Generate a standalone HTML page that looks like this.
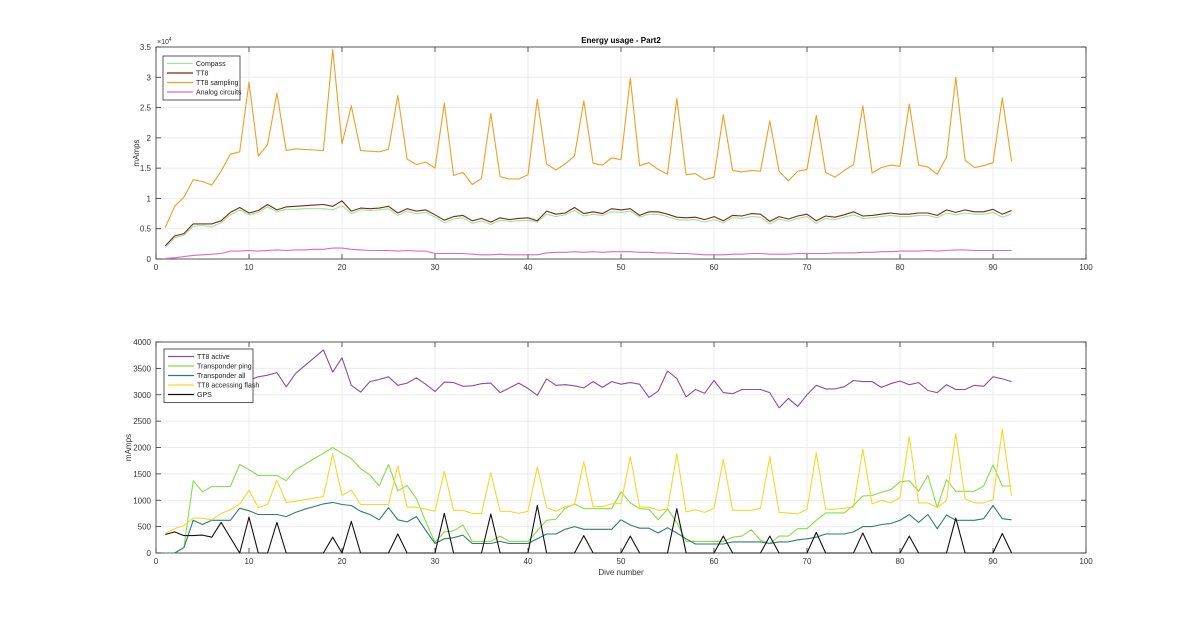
<!DOCTYPE html>
<html><head><meta charset="utf-8">
<style>
body{margin:0;background:#fff;}
svg{display:block;font-family:"Liberation Sans",sans-serif;}
</style></head>
<body>
<svg id="fig" width="1200" height="622" viewBox="0 0 1200 622">
<rect width="1200" height="622" fill="#fff"/>
<g id="top"></g>
<g id="bot"></g>
</svg>
<script>
const diveNumbers = Array.from({length:92},(_,i)=>i+1);
const topXTicks = [0,10,20,30,40,50,60,70,80,90,100];
const topYTicks = [0,0.5,1,1.5,2,2.5,3,3.5];
const botYTicks = [0,500,1000,1500,2000,2500,3000,3500,4000];
const compass = [1.9,3.5,3.9,5.4,5.5,5.3,6.0,7.3,8.1,7.3,7.7,8.6,7.8,8.2,8.2,8.3,8.3,8.3,8.1,8.8,7.5,8.1,8.0,8.1,8.3,7.2,7.9,7.5,7.7,6.9,6.0,6.6,6.8,5.9,6.3,5.7,6.4,6.2,6.3,6.4,6.1,7.4,7.0,7.3,8.0,7.1,7.4,7.2,7.8,7.7,7.9,6.9,7.4,7.4,7.0,6.5,6.4,6.5,6.1,6.5,6.0,6.8,6.7,7.0,6.9,5.8,6.6,6.2,6.7,7.0,5.9,6.7,6.5,6.9,7.3,6.7,6.8,7.0,7.2,7.0,7.0,7.2,7.2,6.8,7.6,7.3,7.6,7.4,7.4,7.7,6.9,7.5];
const tt8 = [2.2,3.8,4.2,5.8,5.8,5.8,6.3,7.7,8.5,7.6,8.0,9.0,8.1,8.6,8.7,8.8,8.9,9.0,8.7,9.6,7.9,8.4,8.3,8.4,8.7,7.6,8.3,7.9,8.1,7.3,6.4,7.0,7.2,6.3,6.7,6.1,6.8,6.5,6.7,6.8,6.3,7.9,7.4,7.6,8.5,7.5,7.8,7.5,8.3,8.1,8.3,7.2,7.8,7.8,7.4,6.9,6.8,6.9,6.5,7.0,6.3,7.2,7.1,7.5,7.4,6.2,7.0,6.6,7.1,7.4,6.3,7.1,6.9,7.3,7.8,7.1,7.2,7.4,7.6,7.4,7.4,7.6,7.6,7.2,8.1,7.7,8.1,7.8,7.8,8.2,7.4,8.0];
const tt8Sampling = [5.2,8.7,10.2,13.1,12.8,12.2,14.5,17.3,17.7,29.2,17.0,18.9,27.4,17.9,18.2,18.1,18.0,17.9,34.6,19.0,25.3,17.9,17.8,17.7,18.1,27.0,16.5,15.6,16.0,15.0,25.7,13.8,14.3,12.3,13.3,24.0,13.6,13.2,13.2,13.9,26.4,15.7,14.7,15.7,17.0,26.1,15.8,15.5,16.7,16.4,29.9,15.4,15.9,14.8,14.0,26.5,13.9,14.1,13.1,13.5,23.8,14.6,14.4,14.6,14.5,22.8,14.5,12.9,14.5,14.8,23.7,14.3,13.5,14.6,15.6,25.3,14.2,15.1,15.5,15.3,25.6,15.5,15.2,14.0,16.8,30.0,16.3,15.1,15.4,15.9,26.6,16.1];
const analog = [0.1,0.2,0.4,0.6,0.7,0.8,0.9,1.3,1.3,1.4,1.3,1.4,1.5,1.4,1.5,1.5,1.6,1.6,1.8,1.8,1.6,1.5,1.4,1.4,1.4,1.3,1.4,1.3,1.3,0.9,0.9,0.9,0.9,0.8,0.7,0.7,0.8,0.7,0.7,0.7,0.7,1.0,1.1,1.1,1.2,1.1,1.2,1.1,1.2,1.2,1.2,1.1,1.1,1.0,1.0,0.9,0.9,0.8,0.7,0.7,0.7,0.8,0.8,0.9,0.9,0.8,0.8,0.8,0.9,0.9,0.9,0.9,1.0,1.0,1.0,1.1,1.1,1.2,1.2,1.3,1.3,1.3,1.4,1.3,1.4,1.5,1.5,1.4,1.4,1.4,1.4,1.4];
const tt8Active = [2950,3000,3050,3100,3150,3200,3250,3250,3300,3280,3340,3370,3420,3150,3400,3550,3700,3850,3430,3700,3180,3050,3250,3290,3340,3180,3220,3320,3200,3060,3240,3230,3160,3170,3210,3220,3040,3130,3220,3120,2990,3300,3180,3190,3170,3130,3250,3140,3250,3200,3230,3200,2950,3070,3450,3310,2960,3100,3030,3270,3040,3020,3100,3100,3100,3040,2750,2930,2780,3000,3180,3110,3110,3150,3270,3250,3250,3140,3210,3260,3190,3230,3080,3040,3190,3100,3100,3180,3160,3340,3300,3250];
const transponderPing = [0,0,100,1370,1160,1260,1260,1260,1680,1580,1470,1470,1470,1370,1580,1680,1790,1890,2000,1890,1790,1600,1480,1270,1680,1180,1280,1030,600,200,400,420,530,220,220,220,320,220,220,220,420,620,640,850,930,840,840,840,840,1160,950,840,830,630,830,580,220,220,220,220,220,300,320,440,240,180,320,320,460,460,620,760,760,760,900,1080,1090,1150,1200,1350,1370,1170,1470,860,1390,1170,1170,1170,1270,1670,1270,1270];
const transponderAll = [0,0,100,620,540,620,620,620,850,800,730,730,730,690,770,830,880,930,960,920,900,790,730,630,860,630,590,690,430,180,270,290,340,180,180,180,220,180,180,180,270,360,360,450,500,450,450,450,450,630,530,470,470,380,480,380,270,170,170,170,170,210,210,210,210,180,210,210,250,270,300,360,360,360,400,500,500,540,560,620,730,580,730,460,720,620,620,620,650,900,650,630];
const tt8Flash = [370,460,520,660,660,630,750,820,930,1190,860,920,1380,960,980,1010,1040,1070,1880,1090,1190,920,920,920,920,1650,870,870,830,790,1550,810,810,750,750,1520,790,790,750,790,1630,860,790,880,920,1730,880,880,930,940,1830,870,870,810,830,1880,780,820,770,850,1770,810,810,810,850,1830,770,760,740,830,1900,830,830,850,870,1970,930,1000,950,1050,2200,950,950,860,1000,2260,1030,950,950,1010,2350,1080];
const gps = [350,400,330,330,340,300,580,290,0,680,0,0,580,0,0,0,0,0,300,0,600,0,0,0,0,360,0,0,0,0,750,0,0,0,0,740,0,0,0,0,900,0,0,0,0,330,0,0,0,0,320,0,0,0,0,840,0,0,0,0,320,0,0,0,0,320,0,0,0,0,390,0,0,0,0,380,0,0,0,0,320,0,0,0,0,660,0,0,0,0,370,0];

const NS='http://www.w3.org/2000/svg';
function mk(parent,tag,attrs){const e=document.createElementNS(NS,tag);for(const k in attrs)e.setAttribute(k,attrs[k]);parent.appendChild(e);return e;}

const L=156,R=1086;
function xScale(v){return L+(R-L)*v/100;}

function axes(g,top,bot,ymax,yTicks,yFmt,name,ylx){
  const ys=v=>bot-(bot-top)*v/ymax;
  const bg=mk(g,'rect',{x:L,y:top,width:R-L,height:bot-top,fill:'#fff',stroke:'none'});
  
  
  topXTicks.forEach(t=>{
    const x=xScale(t);
    const gl=mk(g,'line',{x1:x,x2:x,y1:top,y2:bot,stroke:'#ebebeb','stroke-width':1});
    
    
    mk(g,'line',{x1:x,x2:x,y1:bot,y2:bot-5,stroke:'#333','stroke-width':0.8});
    mk(g,'line',{x1:x,x2:x,y1:top,y2:top+5,stroke:'#333','stroke-width':0.8});
    const tx=mk(g,'text',{x:x,y:bot+11,'font-size':8,'text-anchor':'middle',fill:'#333'});
    tx.textContent=t;
    
    
  });
  yTicks.forEach(t=>{
    const y=ys(t);
    const gl=mk(g,'line',{x1:L,x2:R,y1:y,y2:y,stroke:'#ebebeb','stroke-width':1});
    
    
    mk(g,'line',{x1:L,x2:L+5,y1:y,y2:y,stroke:'#333','stroke-width':0.8});
    mk(g,'line',{x1:R,x2:R-5,y1:y,y2:y,stroke:'#333','stroke-width':0.8});
    const tx=mk(g,'text',{x:L-5,y:y+3,'font-size':8,'text-anchor':'end',fill:'#333'});
    tx.textContent=yFmt(t);
    
    
  });
  const fr=mk(g,'rect',{x:L,y:top,width:R-L,height:bot-top,fill:'none',stroke:'#333','stroke-width':0.8});
  
  
  const yl=mk(g,'text',{x:0,y:0,'font-size':8,'text-anchor':'middle',fill:'#333',transform:`translate(${ylx},${(top+bot)/2}) rotate(-90)`});
  yl.textContent='mAmps';
  
  
  return ys;
}
function series(g,ys,vals,color,name){
  const pts=vals.map((v,i)=>xScale(diveNumbers[i]).toFixed(1)+','+ys(v).toFixed(1)).join(' ');
  const p=mk(g,'polyline',{points:pts,fill:'none',stroke:color,'stroke-width':1.1,'stroke-linejoin':'round'});
  
  
}
function legend(g,x,y,w,entries){
  const h=entries.length*9.5+6;
  const b=mk(g,'rect',{x:x,y:y,width:w,height:h,fill:'#fff',stroke:'#333','stroke-width':0.8});
  
  
  entries.forEach((e,i)=>{
    const yy=y+7.5+i*9.5;
    const ln=mk(g,'line',{x1:x+4,x2:x+30,y1:yy,y2:yy,stroke:e[1],'stroke-width':1.3});
    
    
    const t=mk(g,'text',{x:x+33,y:yy+2.5,'font-size':7,fill:'#222'});
    t.textContent=e[0];
    
    
  });
}

const gt=document.getElementById('top');
const ysT=axes(gt,47,259,35,topYTicks.map(v=>v*10),v=>String(v/10),'top',139);
series(gt,ysT,compass,'#9be59b','compass-line');
series(gt,ysT,tt8,'#7a2a12','tt8-line');
series(gt,ysT,tt8Sampling,'#e9a126','tt8-sampling-line');
series(gt,ysT,analog,'#e06ab8','analog-circuits-line');
legend(gt,163,56,77,[['Compass','#9be59b'],['TT8','#7a2a12'],['TT8 sampling','#e9a126'],['Analog circuits','#e06ab8']]);
const ttl=mk(gt,'text',{x:621,y:43,'font-size':8,'font-weight':'bold','text-anchor':'middle',fill:'#000'});
ttl.textContent='Energy usage - Part2';


const ex=mk(gt,'text',{x:157,y:44,'font-size':7,fill:'#333'});
ex.innerHTML='×10<tspan dy="-3" font-size="5">4</tspan>';



const gb=document.getElementById('bot');
const ysB=axes(gb,342,553,4000,botYTicks,v=>String(v),'bottom',131);
series(gb,ysB,tt8Active,'#8b4ca6','tt8-active-line');
series(gb,ysB,transponderPing,'#84e043','transponder-ping-line');
series(gb,ysB,transponderAll,'#2f7d6d','transponder-all-line');
series(gb,ysB,tt8Flash,'#f2d92e','tt8-accessing-flash-line');
series(gb,ysB,gps,'#111','gps-line');
legend(gb,164,349,89,[['TT8 active','#8b4ca6'],['Transponder ping','#84e043'],['Transponder all','#2f7d6d'],['TT8 accessing flash','#f2d92e'],['GPS','#111']]);
const xl=mk(gb,'text',{x:621,y:575,'font-size':8,'text-anchor':'middle',fill:'#333'});
xl.textContent='Dive number';


</script>
</body></html>
